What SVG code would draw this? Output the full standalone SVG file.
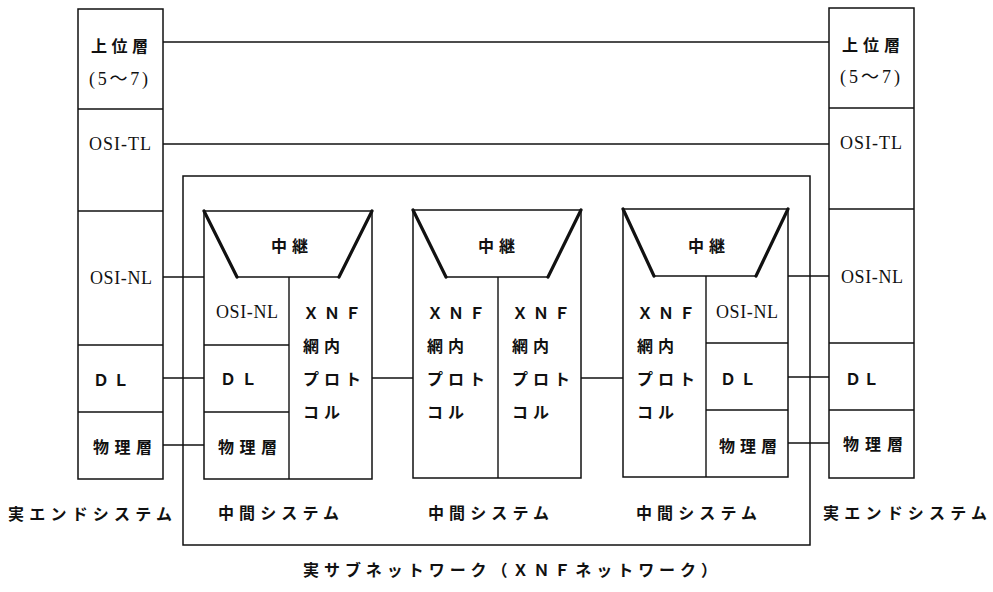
<svg xmlns="http://www.w3.org/2000/svg" width="993" height="592" viewBox="0 0 993 592">
<style>
.box{fill:none;stroke:#111;stroke-width:1.5}
.ln{fill:none;stroke:#111;stroke-width:1.4}
.thick{fill:none;stroke:#111;stroke-width:3.2;stroke-linecap:round}
.con{fill:none;stroke:#111;stroke-width:1.4}
.jp{font-family:"Noto Sans CJK JP","Noto Sans CJK SC",sans-serif;font-weight:700;font-size:16px;fill:#111;dominant-baseline:central}
.mono{font-family:"Liberation Serif","Noto Sans CJK JP",serif;font-size:18px;fill:#111;dominant-baseline:central}
</style>
<rect width="993" height="592" fill="#fff"/>

<g id="subnet">
<rect class="box" x="183" y="176" width="627" height="369"/>
<text class="jp" x="303" y="569" textLength="414" lengthAdjust="spacing">実サブネットワーク（ＸＮＦネットワーク）</text>
</g>

<g id="connectors">
<line class="con" x1="163" y1="42" x2="829" y2="42"/>
<line class="con" x1="163" y1="144" x2="829" y2="144"/>
<line class="con" x1="163" y1="277" x2="204" y2="277"/>
<line class="con" x1="163" y1="378" x2="204" y2="378"/>
<line class="con" x1="163" y1="445" x2="204" y2="445"/>
<line class="con" x1="372" y1="378" x2="413" y2="378"/>
<line class="con" x1="581" y1="378" x2="623" y2="378"/>
<line class="con" x1="788" y1="276" x2="829" y2="276"/>
<line class="con" x1="788" y1="377" x2="829" y2="377"/>
<line class="con" x1="788" y1="443" x2="829" y2="443"/>
</g>

<g id="end-left">
<rect class="box" x="78" y="9" width="85" height="470"/>
<line class="ln" x1="78" y1="109" x2="163" y2="109"/>
<line class="ln" x1="78" y1="211" x2="163" y2="211"/>
<line class="ln" x1="78" y1="345" x2="163" y2="345"/>
<line class="ln" x1="78" y1="412" x2="163" y2="412"/>
<text class="jp" x="91" y="45" textLength="57" lengthAdjust="spacing">上位層</text>
<text class="mono" x="89" y="79" textLength="59" lengthAdjust="spacing">(5～7)</text>
<text class="mono" x="89" y="144" textLength="62" lengthAdjust="spacing">OSI-TL</text>
<text class="mono" x="90" y="278" textLength="62" lengthAdjust="spacing">OSI-NL</text>
<text class="jp" x="93" y="379" textLength="36" lengthAdjust="spacing">ＤＬ</text>
<text class="jp" x="93" y="446" textLength="59" lengthAdjust="spacing">物理層</text>
<text class="jp" x="8" y="513" textLength="164" lengthAdjust="spacing">実エンドシステム</text>
</g>

<g id="end-right">
<rect class="box" x="829" y="8" width="85" height="470"/>
<line class="ln" x1="829" y1="108" x2="914" y2="108"/>
<line class="ln" x1="829" y1="209" x2="914" y2="209"/>
<line class="ln" x1="829" y1="343" x2="914" y2="343"/>
<line class="ln" x1="829" y1="410" x2="914" y2="410"/>
<text class="jp" x="842" y="44" textLength="58" lengthAdjust="spacing">上位層</text>
<text class="mono" x="840" y="77" textLength="60" lengthAdjust="spacing">(5～7)</text>
<text class="mono" x="840" y="143" textLength="62" lengthAdjust="spacing">OSI-TL</text>
<text class="mono" x="841" y="277" textLength="62" lengthAdjust="spacing">OSI-NL</text>
<text class="jp" x="845" y="378" textLength="34" lengthAdjust="spacing">ＤＬ</text>
<text class="jp" x="843" y="443" textLength="60" lengthAdjust="spacing">物理層</text>
<text class="jp" x="823" y="512" textLength="164" lengthAdjust="spacing">実エンドシステム</text>
</g>

<g id="intermediate-1">
<rect class="box" x="204" y="211" width="168" height="268"/>
<line class="thick" x1="204" y1="211" x2="237" y2="277"/>
<line class="thick" x1="372" y1="211" x2="339" y2="277"/>
<line class="ln" x1="237" y1="277" x2="339" y2="277"/>
<line class="ln" x1="289" y1="277" x2="289" y2="479"/>
<line class="ln" x1="204" y1="345" x2="289" y2="345"/>
<line class="ln" x1="204" y1="412" x2="289" y2="412"/>
<text class="jp" x="271" y="245" textLength="37" lengthAdjust="spacing">中継</text>
<text class="mono" x="216" y="312" textLength="62" lengthAdjust="spacing">OSI-NL</text>
<text class="jp" x="220" y="378" textLength="37" lengthAdjust="spacing">ＤＬ</text>
<text class="jp" x="218" y="446" textLength="59" lengthAdjust="spacing">物理層</text>
<text class="jp" x="303" y="312" textLength="58" lengthAdjust="spacing">ＸＮＦ</text>
<text class="jp" x="303" y="345" textLength="37" lengthAdjust="spacing">網内</text>
<text class="jp" x="303" y="378" textLength="58" lengthAdjust="spacing">プロト</text>
<text class="jp" x="303" y="411" textLength="37" lengthAdjust="spacing">コル</text>
<text class="jp" x="218" y="512" textLength="121" lengthAdjust="spacing">中間システム</text>
</g>

<g id="intermediate-2">
<rect class="box" x="413" y="210" width="168" height="268"/>
<line class="thick" x1="413" y1="210" x2="446" y2="277"/>
<line class="thick" x1="581" y1="210" x2="548" y2="277"/>
<line class="ln" x1="446" y1="277" x2="548" y2="277"/>
<line class="ln" x1="498" y1="277" x2="498" y2="478"/>
<text class="jp" x="478" y="245" textLength="37" lengthAdjust="spacing">中継</text>
<text class="jp" x="427" y="312" textLength="58" lengthAdjust="spacing">ＸＮＦ</text>
<text class="jp" x="427" y="345" textLength="37" lengthAdjust="spacing">網内</text>
<text class="jp" x="427" y="378" textLength="58" lengthAdjust="spacing">プロト</text>
<text class="jp" x="427" y="411" textLength="37" lengthAdjust="spacing">コル</text>
<text class="jp" x="512" y="312" textLength="58" lengthAdjust="spacing">ＸＮＦ</text>
<text class="jp" x="512" y="345" textLength="37" lengthAdjust="spacing">網内</text>
<text class="jp" x="512" y="378" textLength="58" lengthAdjust="spacing">プロト</text>
<text class="jp" x="512" y="411" textLength="37" lengthAdjust="spacing">コル</text>
<text class="jp" x="428" y="512" textLength="121" lengthAdjust="spacing">中間システム</text>
</g>

<g id="intermediate-3">
<rect class="box" x="623" y="209" width="165" height="268"/>
<line class="thick" x1="623" y1="209" x2="654" y2="276"/>
<line class="thick" x1="788" y1="209" x2="756" y2="276"/>
<line class="ln" x1="654" y1="276" x2="756" y2="276"/>
<line class="ln" x1="706" y1="276" x2="706" y2="477"/>
<line class="ln" x1="706" y1="343" x2="788" y2="343"/>
<line class="ln" x1="706" y1="410" x2="788" y2="410"/>
<text class="jp" x="688" y="245" textLength="37" lengthAdjust="spacing">中継</text>
<text class="jp" x="637" y="312" textLength="58" lengthAdjust="spacing">ＸＮＦ</text>
<text class="jp" x="637" y="345" textLength="37" lengthAdjust="spacing">網内</text>
<text class="jp" x="637" y="378" textLength="58" lengthAdjust="spacing">プロト</text>
<text class="jp" x="637" y="411" textLength="37" lengthAdjust="spacing">コル</text>
<text class="mono" x="716" y="312" textLength="62" lengthAdjust="spacing">OSI-NL</text>
<text class="jp" x="720" y="378" textLength="36" lengthAdjust="spacing">ＤＬ</text>
<text class="jp" x="719" y="445" textLength="58" lengthAdjust="spacing">物理層</text>
<text class="jp" x="636" y="512" textLength="121" lengthAdjust="spacing">中間システム</text>
</g>
</svg>
